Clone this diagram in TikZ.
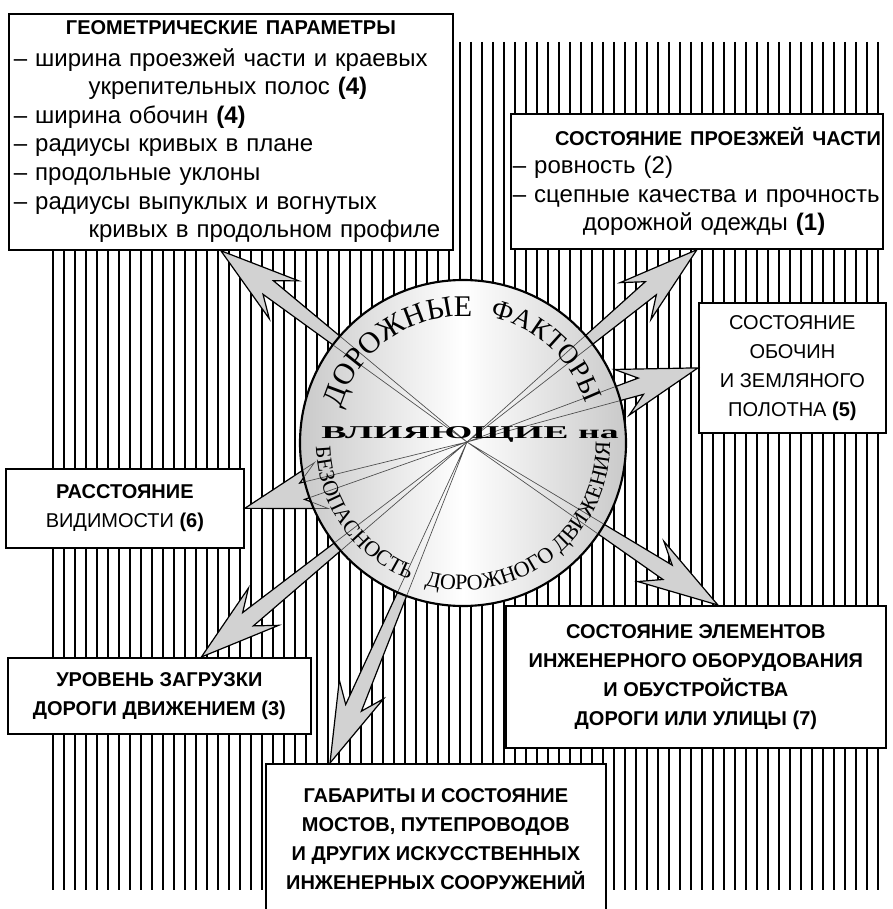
\documentclass[tikz,border=0pt]{standalone}
\usepackage{fontspec}
\setmainfont{Liberation Sans}
\newfontfamily\discfont{Liberation Serif}
\usetikzlibrary{calc}
\usetikzlibrary{decorations.text}

\newcommand{\arcbig}{\discfont\fontsize{22.5}{24}\selectfont}
\newcommand{\arcmid}{\discfont\fontsize{20.5}{22}\selectfont}
\newcommand{\arcsmall}{\discfont\fontsize{16.5}{18}\selectfont}

% block arrow from the hub (#2) to a box (#3)
\newcommand{\factorarrow}[3][arrowbody]{%
  \path[#1] (#2) -- ($(#3)!45pt!(#2)!6.4pt!90:(#2)$)
    -- ($(#3)!60pt!(#2)!18pt!90:(#2)$) -- (#3)
    -- ($(#3)!60pt!(#2)!18pt!-90:(#2)$)
    -- ($(#3)!45pt!(#2)!6.4pt!-90:(#2)$) -- cycle;}

\tikzset{
  stripe/.style={line width=1.15pt},
  factorbox/.style={draw, line width=1.3pt, fill=white, inner xsep=3.75pt, inner ysep=0pt, anchor=north west},
  capsfont/.style={font=\fontsize{15}{21.75}\selectfont},
  boldcaps/.style={font=\fontsize{15}{21.75}\selectfont\bfseries},
  listfont/.style={font=\fontsize{18}{21.45}\selectfont},
  arrowbody/.style={fill=gray!35, draw=black, line width=0.9pt},
  arrowedge/.style={draw=black!70, line width=0.5pt},
}

\begin{document}
\begin{tikzpicture}[x=0.75pt,y=0.75pt,yscale=-1,xscale=1]
\useasboundingbox (0,0) rectangle (892,909);

%Straight Lines: hatched background
\foreach \x in {53,64,...,880} \draw[stripe] (\x,42) -- (\x,890);

%Shape: Rectangle
\node[factorbox, listfont, text width=325.5pt, minimum height=177pt, align=left] (geom) at (8,13) {%
  \makebox[\linewidth]{\fontsize{15}{21.45}\selectfont\bfseries ГЕОМЕТРИЧЕСКИЕ ПАРАМЕТРЫ}\\[2pt]
  – ширина проезжей части и краевых\\
  \hspace*{56pt}укрепительных полос \textbf{(4)}\\
  – ширина обочин \textbf{(4)}\\
  – радиусы кривых в плане\\
  – продольные уклоны\\
  – радиусы выпуклых и вогнутых\\
  \hspace*{56pt}кривых в продольном профиле};
%Shape: Rectangle
\node[factorbox, listfont, inner xsep=1.5pt, text width=276pt, minimum height=101.25pt, align=left] (road) at (510,113) {%
  \hfill{\fontsize{15}{21.45}\selectfont\bfseries СОСТОЯНИЕ ПРОЕЗЖЕЙ ЧАСТИ}\hspace*{2pt}\\
  – ровность (2)\\
  – сцепные качества и прочность\\
  \hspace*{52.5pt}дорожной одежды \textbf{(1)}};
%Shape: Rectangle
\node[factorbox, capsfont, align=center, minimum width=140.25pt, minimum height=97.5pt] (shoulder) at (698,302)
  {СОСТОЯНИЕ\\ОБОЧИН\\И ЗЕМЛЯНОГО\\ПОЛОТНА \textbf{(5)}};
%Shape: Rectangle
\node[factorbox, capsfont, align=center, minimum width=178.5pt, minimum height=59.25pt] (sight) at (5,468)
  {\textbf{РАССТОЯНИЕ}\\ВИДИМОСТИ \textbf{(6)}};
%Shape: Rectangle
\node[factorbox, boldcaps, align=center, minimum width=227.25pt, minimum height=57pt] (load) at (7,657)
  {УРОВЕНЬ ЗАГРУЗКИ\\ДОРОГИ ДВИЖЕНИЕМ (3)};
%Shape: Rectangle
\node[factorbox, boldcaps, align=center, minimum width=255pt, minimum height=112.5pt] (bridge) at (265,763)
  {ГАБАРИТЫ И СОСТОЯНИЕ\\МОСТОВ, ПУТЕПРОВОДОВ\\И ДРУГИХ ИСКУССТВЕННЫХ\\ИНЖЕНЕРНЫХ СООРУЖЕНИЙ};
%Shape: Rectangle
\node[factorbox, boldcaps, align=center, minimum width=285pt, minimum height=106.5pt] (equip) at (505,605)
  {СОСТОЯНИЕ ЭЛЕМЕНТОВ\\ИНЖЕНЕРНОГО ОБОРУДОВАНИЯ\\И ОБУСТРОЙСТВА\\ДОРОГИ ИЛИ УЛИЦЫ (7)};

% arrow ends
\coordinate (hub) at (467,442);
\coordinate (geomtip) at ($(geom.south)+(-10,0)$);
\coordinate (roadtip) at (road.south);
\coordinate (shouldertip) at (shoulder.west);
\coordinate (sighttip) at (sight.east);
\coordinate (loadtip) at ($(load.north)+(42,0)$);
\coordinate (bridgetip) at ($(bridge.north west)+(65,0)$);
\coordinate (equiptip) at ($(equip.north)+(22,0)$);

%Block Arrows
\factorarrow{hub}{geomtip}
\factorarrow{hub}{roadtip}
\factorarrow{hub}{shouldertip}
\factorarrow{hub}{sighttip}
\factorarrow{hub}{loadtip}
\factorarrow{hub}{bridgetip}
\factorarrow{hub}{equiptip}

%Shape: Circle
\node[circle, draw, line width=1.6pt, inner sep=0pt, minimum size=244.5pt,
  left color=gray!42, right color=gray!42, middle color=white] (disc) at (463,443) {};
\begin{scope}
  \clip (disc.center) circle[radius=162];
  \foreach \t in {geomtip,roadtip,shouldertip,sighttip,loadtip,bridgetip,equiptip} {\factorarrow[arrowedge]{hub}{\t}}
\end{scope}

% Text Node
\path[decorate, decoration={text along path, text={|\arcbig|ДОРОЖНЫЕ}, text align=center}]
  ($(disc.center)+(-175:127)$) arc[start angle=-175, end angle=-75, radius=127];
\path[decorate, decoration={text along path, text={|\arcmid|ФАКТОРЫ}, text align=center}]
  ($(disc.center)+(-98:129)$) arc[start angle=-98, end angle=2, radius=129];
\path[decorate, decoration={text along path, text={|\arcsmall|БЕЗОПАСНОСТЬ}, text align=center}]
  ($(disc.center)+(-165:147)$) arc[start angle=-165, end angle=-265, radius=147];
\path[decorate, decoration={text along path, text={|\arcsmall|ДОРОЖНОГО}, text align=center}]
  ($(disc.center)+(-232:147)$) arc[start angle=-232, end angle=-332, radius=147];
\path[decorate, decoration={text along path, text={|\arcsmall|ДВИЖЕНИЯ}, text align=center}]
  ($(disc.center)+(-286:147)$) arc[start angle=-286, end angle=-386, radius=147];
% Text Node
\node[inner sep=0pt, xscale=2.1, font=\discfont\bfseries\fontsize{13.5}{14}\selectfont] (affect) at (470,434) {ВЛИЯЮЩИЕ на};
\end{tikzpicture}
\end{document}
